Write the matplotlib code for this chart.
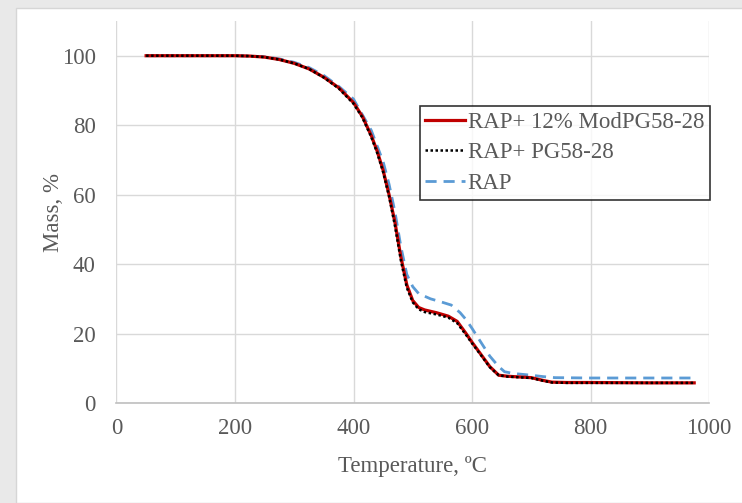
import matplotlib
matplotlib.use("Agg")
import matplotlib.pyplot as plt
from matplotlib.patches import Rectangle

# TGA data (temperature in C, mass in %)
temp_mod = [50, 100, 150, 200, 225, 250, 275, 300, 325, 350, 375, 400, 415, 430, 440,
            450, 460, 470, 480, 490, 500, 510, 520, 540, 560, 575, 590, 600, 615, 630,
            645, 660, 700, 720, 735, 760, 800, 900, 975]
mass_mod = [100, 100, 100, 100, 99.9, 99.6, 98.9, 97.8, 96.2, 93.8, 90.8, 86.5, 82.5, 77, 72.5,
            67, 60, 52, 42, 34, 29.5, 27.5, 26.8, 26, 25, 23.5, 20, 17.5, 14, 10.5,
            8, 7.7, 7.3, 6.5, 6, 5.9, 5.9, 5.8, 5.8]

temp_pg = [50, 100, 150, 200, 225, 250, 275, 300, 325, 350, 375, 400, 415, 430, 440,
           450, 460, 470, 480, 490, 500, 510, 520, 540, 560, 575, 590, 600, 615, 630,
           645, 660, 700, 720, 735, 760, 800, 900, 975]
mass_pg = [100, 100, 100, 100, 99.9, 99.6, 98.9, 97.8, 96.2, 93.7, 90.6, 86.2, 82.2, 76.6, 72,
           66.5, 59.5, 51, 41, 33.2, 29, 27, 26.2, 25.5, 24.6, 23, 19.6, 17.2, 13.8, 10.3,
           8, 7.6, 7.2, 6.4, 5.9, 5.8, 5.8, 5.8, 5.8]

temp_rap = [50, 100, 150, 200, 225, 250, 275, 300, 325, 350, 375, 400, 430, 450, 460,
            470, 480, 490, 500, 510, 530, 550, 565, 580, 590, 600, 615, 630, 645, 655,
            670, 700, 720, 740, 800, 900, 975]
mass_rap = [100, 100, 100, 100, 99.9, 99.7, 99.1, 98.1, 96.6, 94.3, 91.2, 87.5, 78.5, 69.5, 63,
            55, 45, 37, 33.5, 31.5, 30, 29, 28.2, 26, 24, 21.5, 17.5, 13.5, 10.5, 9,
            8.5, 8, 7.6, 7.3, 7.2, 7.2, 7.2]

labels = ["RAP+ 12% ModPG58-28", "RAP+ PG58-28", "RAP"]

plt.rcParams["font.family"] = ["Liberation Serif", "DejaVu Serif"]
text_col = "#595959"
fs = 16.5

fig = plt.figure(figsize=(7.42, 5.03), dpi=100)
fig.patch.set_facecolor("#e9e9e9")
panel = Rectangle((16 / 742, 0), 1, 1 - 8 / 503, transform=fig.transFigure,
                  facecolor="white", edgecolor="#d6d6d6", lw=1, zorder=-10)
fig.patches.append(panel)

ax = fig.add_axes([116.5 / 742, 100 / 503, 592.5 / 742, 382 / 503])
ax.set_facecolor("white")

ax.plot(temp_mod, mass_mod, color="#C00000", lw=2.3, label=labels[0], zorder=3)
ax.plot(temp_pg, mass_pg, color="black", lw=1.8, ls=(0, (1, 1)), label=labels[1], zorder=4)
ax.plot(temp_rap, mass_rap, color="#5B9BD5", lw=2.0, ls=(0, (4, 2.5)), label=labels[2], zorder=2)

ax.set_xlim(0, 1000)
ax.set_ylim(0, 110)
ax.set_xticks([0, 200, 400, 600, 800, 1000])
ax.set_yticks([0, 20, 40, 60, 80, 100])
ax.grid(True, color="#d9d9d9", lw=1)
ax.set_axisbelow(True)
for s in ["top", "right", "left"]:
    ax.spines[s].set_visible(False)
ax.spines["bottom"].set_color("#bfbfbf")
ax.spines["bottom"].set_linewidth(1.2)
ax.tick_params(length=0, labelsize=fs, colors=text_col)
ax.tick_params(axis="x", pad=11)
ax.tick_params(axis="y", pad=15)

ax.set_xlabel("Temperature, ºC", fontsize=fs, color=text_col, labelpad=12)
ax.set_ylabel("Mass, %", fontsize=fs, color=text_col, labelpad=-2)

leg = ax.legend(loc="upper right", bbox_to_anchor=(710 / 742, 1 - 106 / 503),
                bbox_transform=fig.transFigure, fontsize=fs, frameon=True, fancybox=False,
                handlelength=1.75, handletextpad=0.1, labelspacing=0.42,
                borderpad=0.25, borderaxespad=0)
leg.get_frame().set_edgecolor("black")
leg.get_frame().set_linewidth(1.2)
for t in leg.get_texts():
    t.set_color(text_col)

plt.savefig("out.png", dpi=100)
